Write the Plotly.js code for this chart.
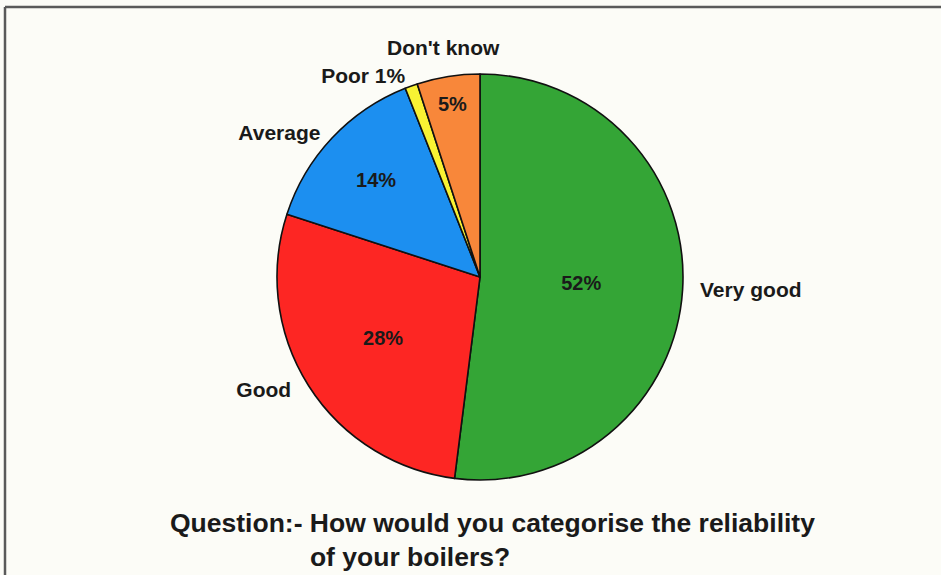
<!DOCTYPE html>
<html>
<head>
<meta charset="utf-8">
<script src="https://cdn.plot.ly/plotly-3.0.1.min.js"></script>
<style>
  html, body { margin: 0; padding: 0; background: #fcfcf7; }
  #chart { width: 941px; height: 575px; }
</style>
</head>
<body>
<div id="chart"></div>
<script>
// Data
const categories = ["Very good", "Good", "Average", "Poor", "Don't know"];
const shares = [52, 28, 14, 1, 5];
const sliceColors = ["#34a536", "#fd2623", "#1c8ff0", "#f8f233", "#f8873a"];
// what is written inside each slice / next to it
const insideTemplates = ["%{percent}", "%{percent}", "%{percent}", "", "%{percent}"];
const NB = "\u00a0";
const outsideTemplates = [NB + NB + "%{label}", "%{label}" + NB + NB, "%{label}" + NB, "%{label} %{percent}", ""];
const aboveLabelIndex = 4; // "Don't know" label sits centred above its slice

const titleLine1 = "Question:-" + NB + "How would you categorise the reliability";
const titleLine2 = NB.repeat(19) + "of your boilers?";

const W = 941, H = 575;
const domain = { x: [277 / W, 683 / W], y: [1 - 480 / H, 1 - 74 / H] };

const FONT = "Liberation Sans, Arial, Helvetica, sans-serif";
const TXT = "#1a1a1a";

// position of a label centred on the mid-angle of a slice, at a distance beyond the rim
function labelAt(i, gapPx) {
  const total = shares.reduce((a, b) => a + b, 0);
  const before = shares.slice(0, i).reduce((a, b) => a + b, 0);
  const theta = (before + shares[i] / 2) / total * 2 * Math.PI; // clockwise from 12 o'clock
  const R = (domain.x[1] - domain.x[0]) * W / 2;
  const cx = (domain.x[0] + domain.x[1]) / 2, cy = (domain.y[0] + domain.y[1]) / 2;
  return {
    x: cx + Math.sin(theta) * (R + gapPx) / W,
    y: cy + Math.cos(theta) * (R + gapPx) / H
  };
}

const insideTrace = {
  type: "pie",
  labels: categories,
  values: shares,
  sort: false,
  direction: "clockwise",
  rotation: 0,
  domain: domain,
  marker: { colors: sliceColors, line: { color: "#111111", width: 1.6 } },
  textposition: "inside",
  insidetextorientation: "horizontal",
  texttemplate: insideTemplates,
  textfont: { family: FONT, size: 20, color: TXT, weight: "bold" },
  hoverinfo: "label+percent",
  showlegend: false
};

const outsideTrace = {
  type: "pie",
  labels: categories,
  values: shares,
  sort: false,
  direction: "clockwise",
  rotation: 0,
  domain: domain,
  marker: { colors: categories.map(() => "rgba(0,0,0,0)"), line: { width: 0 } },
  textposition: "outside",
  texttemplate: outsideTemplates,
  outsidetextfont: { family: FONT, size: 21, color: TXT, weight: "bold" },
  hoverinfo: "skip",
  showlegend: false
};

const dk = labelAt(aboveLabelIndex, 29);

const layout = {
  width: W,
  height: H,
  margin: { l: 0, r: 0, t: 0, b: 0 },
  paper_bgcolor: "#fcfcf7",
  plot_bgcolor: "#fcfcf7",
  showlegend: false,
  title: {
    text: titleLine1 + "<br>" + titleLine2,
    font: { family: FONT, size: 26.5, color: TXT, weight: "bold" },
    xref: "container", yref: "container",
    x: 170 / W, xanchor: "left",
    y: 1 - 532 / H, yanchor: "top"
  },
  annotations: [
    { xref: "paper", yref: "paper", x: dk.x, y: dk.y, xanchor: "center", yanchor: "middle",
      text: categories[aboveLabelIndex], showarrow: false,
      font: { family: FONT, size: 21, color: TXT, weight: "bold" } }
  ],
  shapes: [
    { type: "line", xref: "paper", yref: "paper", x0: 5 / W, x1: 1.01, y0: 1 - 7 / H, y1: 1 - 7 / H,
      line: { color: "#5a5a5a", width: 2.5 } },
    { type: "line", xref: "paper", yref: "paper", x0: 5 / W, x1: 5 / W, y0: -0.01, y1: 1 - 7 / H,
      line: { color: "#5a5a5a", width: 2.5 } }
  ]
};

Plotly.newPlot("chart", [insideTrace, outsideTrace], layout, { displayModeBar: false, staticPlot: true });
</script>
</body>
</html>
